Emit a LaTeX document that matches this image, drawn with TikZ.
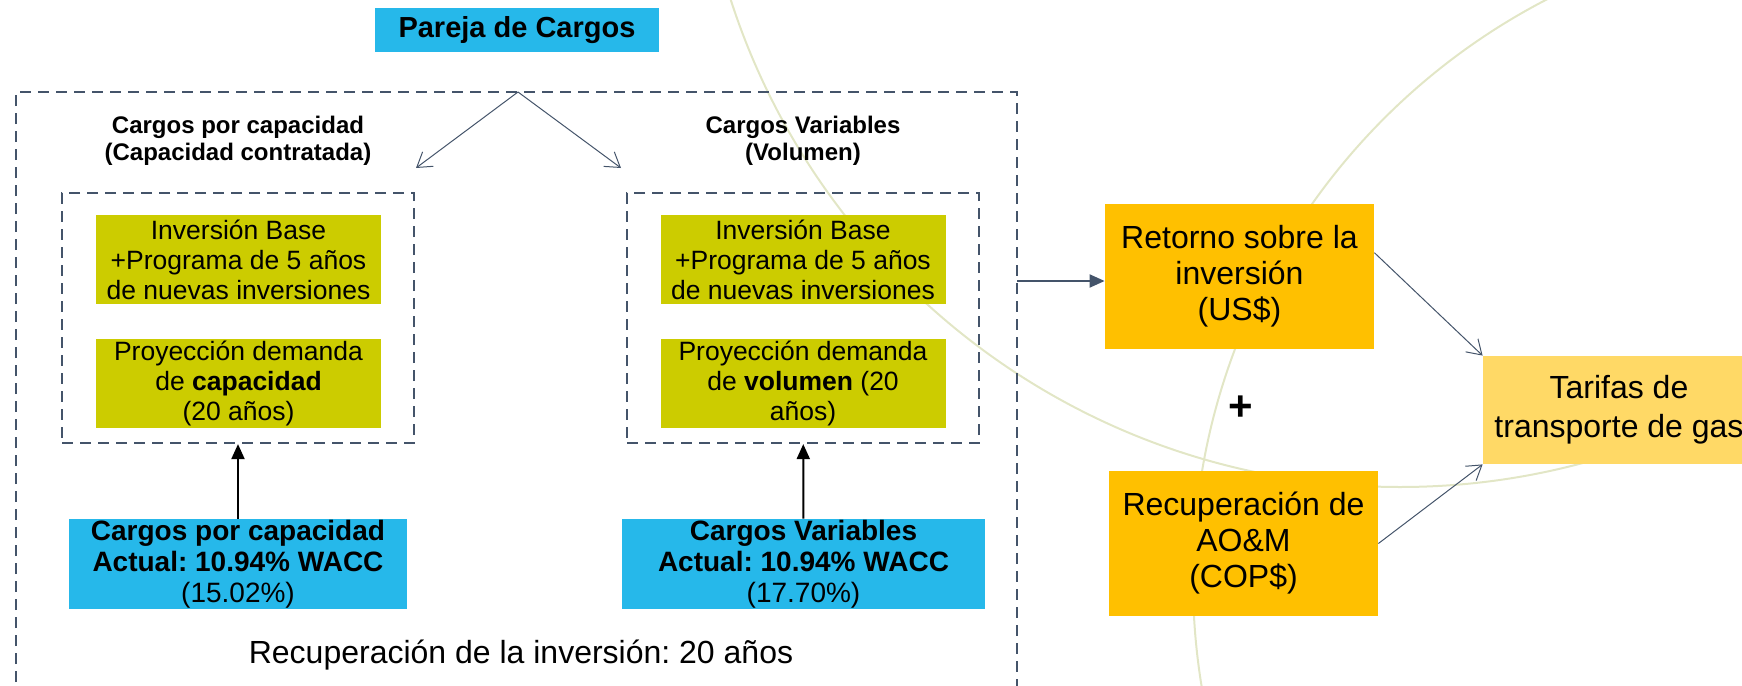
\documentclass[tikz,border=0pt]{standalone}
\usepackage{fontspec}
\setmainfont{Liberation Sans}
\usetikzlibrary{arrows.meta}
\frenchspacing

\definecolor{cargoblue}{RGB}{38,184,234}
\definecolor{olivebox}{RGB}{204,204,0}
\definecolor{orangebox}{RGB}{255,192,0}
\definecolor{goldbox}{RGB}{255,217,102}
\definecolor{slate}{RGB}{68,84,106}
\definecolor{arcline}{RGB}{226,230,198}

\begin{document}
\begin{tikzpicture}[x=0.5pt,y=-0.5pt,
    blue box/.style={fill=cargoblue,align=center,inner sep=0pt},
    green box/.style={fill=olivebox,align=center,inner sep=0pt,minimum width=142.5pt,
      minimum height=44.5pt,font=\fontsize{13.25pt}{15pt}\selectfont},
    orange box/.style={fill=orangebox,align=center,inner sep=0pt,minimum width=134.5pt,
      minimum height=72.5pt,font=\fontsize{16pt}{18pt}\selectfont},
    dash frame/.style={draw=slate,line width=1.1pt,dash pattern=on 5.5pt off 3.5pt},
    head/.style={align=center,font=\fontsize{12pt}{13.5pt}\selectfont\bfseries},
    thin arrow/.style={draw=slate,line width=0.5pt,-{Straight Barb[length=7pt,width=9pt]}},
    arcline/.style={draw=arcline,line width=1pt}]

  \useasboundingbox (0,0) rectangle (1742,686);

  % background arcs
  \begin{scope}
    \clip (0,0) rectangle (1742,686);
    \draw[arcline] (1400,-216) circle[radius=703];
    \draw[arcline] (1846,580) circle[radius=653];
  \end{scope}

  % outer frame, open at the bottom
  \draw[dash frame] (16,700) -- (16,92) -- (1017,92) -- (1017,700);
  \coordinate (apex) at (518,92);
  \coordinate (capL) at (416,168);
  \coordinate (capR) at (621,168);
  \coordinate (frameR) at (1017,281);

  \node[blue box,minimum width=142pt,minimum height=22pt,font=\fontsize{14.5pt}{16pt}\selectfont\bfseries]
    (pareja) at (517,30) {Pareja de Cargos};

  \node[head] (headcap) at (238,141) {Cargos por capacidad\\(Capacidad contratada)};
  \node[head] (headvar) at (803,141) {Cargos Variables\\(Volumen)};

  \node[dash frame,minimum width=176pt,minimum height=125pt] (incap) at (238,318) {};
  \node[dash frame,minimum width=176pt,minimum height=125pt] (invar) at (803,318) {};

  \node[green box] (invcap) at (238.5,259.5) {Inversión Base\\+Programa de 5 años\\de nuevas inversiones};
  \node[green box] (demcap) at (238.5,383) {Proyección demanda\\de \textbf{capacidad}\\(20 años)};
  \node[green box] (invvar) at (803,259.5) {Inversión Base\\+Programa de 5 años\\de nuevas inversiones};
  \node[green box] (demvar) at (803,383) {Proyección demanda\\de \textbf{volumen} (20\\años)};

  \node[blue box,minimum width=169pt,minimum height=45pt,font=\fontsize{14pt}{15.5pt}\selectfont]
    (cargocap) at (238,564) {\textbf{Cargos por capacidad}\\\textbf{Actual: 10.94\% WACC}\\(15.02\%)};
  \node[blue box,minimum width=181.5pt,minimum height=45pt,font=\fontsize{14pt}{15.5pt}\selectfont]
    (cargovar) at (803.5,564) {\textbf{Cargos Variables}\\\textbf{Actual: 10.94\% WACC}\\(17.70\%)};

  \node[font=\fontsize{16pt}{18pt}\selectfont] (recinv) at (521,655) {Recuperación de la inversión: 20 años};

  \node[orange box] (ret) at (1239.5,276.5) {Retorno sobre la\\inversión\\(US\$)};
  \node[orange box] (rec) at (1243.5,543.5) {Recuperación de\\AO\&M\\(COP\$)};
  \node[font=\fontsize{21pt}{21pt}\selectfont\bfseries] (plus) at (1241,408) {+};
  \node[fill=goldbox,align=center,inner sep=0pt,minimum width=136pt,minimum height=54pt,
    font=\fontsize{16pt}{19.5pt}\selectfont] (tar) at (1619,410) {Tarifas de\\transporte de gas};

  % connectors
  \draw[thin arrow] (apex) -- (capL);
  \draw[thin arrow] (apex) -- (capR);
  \draw[line width=1pt,-{Triangle[length=7.5pt,width=6.5pt]}] (cargocap) -- (incap);
  \draw[line width=1pt,-{Triangle[length=7.5pt,width=6.5pt]}] (cargovar) -- (invar);
  \draw[draw=slate,line width=1pt,-{Triangle[length=7.5pt,width=6.5pt]},fill=slate]
    (frameR) -- (ret.west |- frameR);
  \draw[thin arrow] (ret.10) -- (tar.north west);
  \draw[thin arrow] (rec.east) -- (tar.south west);
\end{tikzpicture}
\end{document}
